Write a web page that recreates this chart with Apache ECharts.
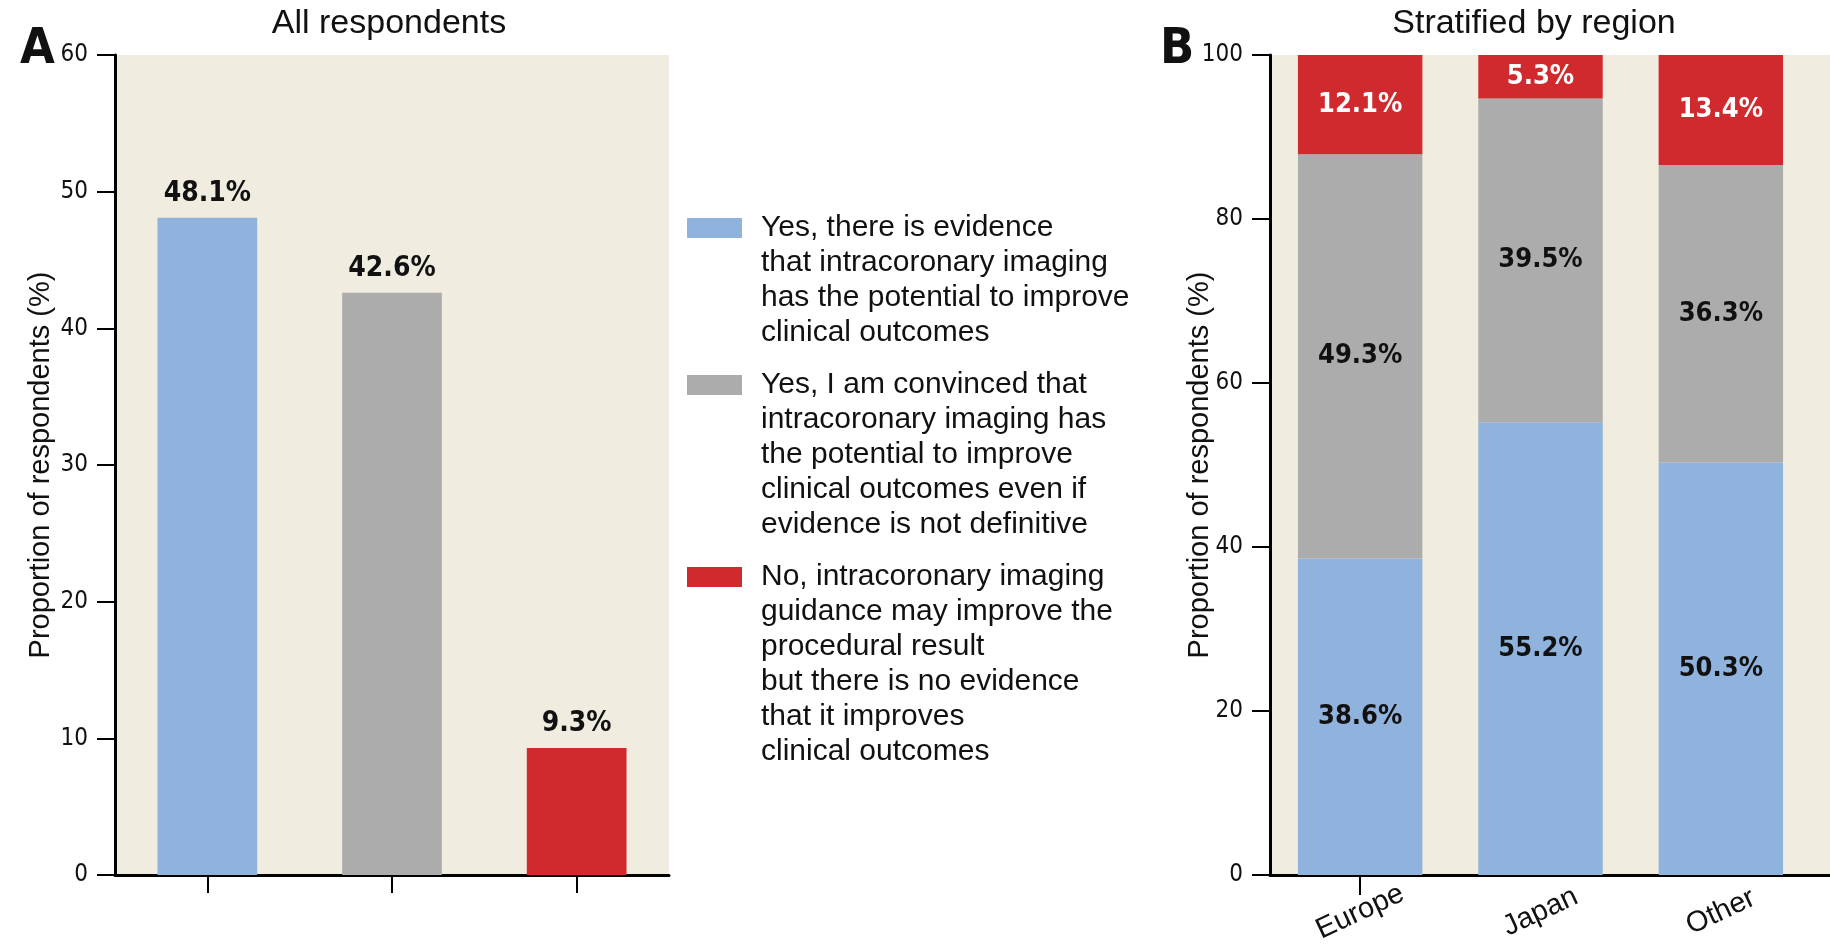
<!DOCTYPE html>
<html>
<head>
<meta charset="utf-8">
<script src="https://cdn.jsdelivr.net/npm/echarts@6/dist/echarts.min.js"></script>
<style>
html,body{margin:0;padding:0;background:#fff;}
#chart{width:1830px;height:951px;}
</style>
</head>
<body>
<div id="chart"></div>
<script>
// ---- data ----
const responseNames = [
  'Yes, there is evidence\nthat intracoronary imaging\nhas the potential to improve\nclinical outcomes',
  'Yes, I am convinced that\nintracoronary imaging has\nthe potential to improve\nclinical outcomes even if\nevidence is not definitive',
  'No, intracoronary imaging\nguidance may improve the\nprocedural result\nbut there is no evidence\nthat it improves\nclinical outcomes'
];
const allRespondents = [48.1, 42.6, 9.3];
const regions = ['Europe', 'Japan', 'Other'];
const regionYesEvidence = [38.6, 55.2, 50.3];
const regionYesConvinced = [49.3, 39.5, 36.3];
const regionNo = [12.1, 5.3, 13.4];
const colors = ['#8fb3dd', '#acacac', '#d12a2e'];
const panelTitles = ['All respondents', 'Stratified by region'];
const yAxisName = 'Proportion of respondents (%)';

// ---- styles ----
const BG = '#f0ede0';
const NARROW = '"Liberation Sans Narrow","DejaVu Sans Condensed",sans-serif';
const SANS = '"Liberation Sans",Arial,sans-serif';
const INK = '#111';

const chart = echarts.init(document.getElementById('chart'));

const yAxisCommon = {
  type: 'value',
  name: yAxisName,
  nameLocation: 'middle',
  nameMoveOverlap: false,
  nameTextStyle: {fontSize: 29, fontFamily: SANS, color: INK},
  axisLine: {show: true, lineStyle: {color: '#000', width: 3}},
  axisTick: {show: true, length: 18, lineStyle: {color: '#000', width: 2}},
  axisLabel: {fontSize: 24, fontFamily: NARROW, color: INK, margin: 27},
  splitLine: {show: false}
};

const seriesB = [regionYesEvidence, regionYesConvinced, regionNo].map((vals, i) => ({
  type: 'bar',
  name: responseNames[i],
  xAxisIndex: 1,
  yAxisIndex: 1,
  stack: 'region',
  barWidth: '69%',
  data: vals,
  itemStyle: {color: colors[i]},
  label: {
    show: true,
    position: 'inside',
    formatter: '{c}%',
    fontSize: 27,
    fontWeight: 'bold',
    fontFamily: NARROW,
    color: i === 2 ? '#fff' : INK
  }
}));

// legend drawn as graphics (icon aligned with first text line)
const legendGraphics = [];
let iconTop = 218;
const LH = 35, GAP = 17;
responseNames.forEach((name, i) => {
  legendGraphics.push({
    type: 'rect',
    shape: {x: 687, y: iconTop, width: 55, height: 20},
    style: {fill: colors[i]}
  });
  legendGraphics.push({
    type: 'text',
    x: 761,
    y: iconTop + 10 - LH / 2,
    style: {
      text: name,
      font: '30px ' + SANS,
      fill: INK,
      lineHeight: LH,
      verticalAlign: 'top',
      align: 'left'
    }
  });
  iconTop += name.split('\n').length * LH + GAP;
});

const option = {
  backgroundColor: '#fff',
  animation: false,
  title: [
    {text: panelTitles[0], left: 384, top: 2, textAlign: 'center',
     textStyle: {fontSize: 34, fontWeight: 'normal', fontFamily: SANS, color: INK}},
    {text: panelTitles[1], left: 1529, top: 2, textAlign: 'center',
     textStyle: {fontSize: 34, fontWeight: 'normal', fontFamily: SANS, color: INK}}
  ],
  grid: [
    {left: 115, top: 55, width: 554, height: 820, show: true, backgroundColor: BG, borderWidth: 0},
    {left: 1270, top: 55, width: 541, height: 820, show: true, backgroundColor: BG, borderWidth: 0}
  ],
  xAxis: [
    {
      gridIndex: 0, type: 'category', data: ['', '', ''],
      axisLine: {lineStyle: {color: '#000', width: 3}},
      axisTick: {show: true, alignWithLabel: true, interval: 0, length: 18, lineStyle: {color: '#000', width: 2}},
      axisLabel: {show: true, interval: 0, color: INK}
    },
    {
      gridIndex: 1, type: 'category', data: regions,
      axisLine: {lineStyle: {color: '#000', width: 3}},
      axisTick: {show: true, alignWithLabel: true, length: 20, interval: (idx) => idx === 0,
                 lineStyle: {color: '#000', width: 2}},
      axisLabel: {rotate: 25, align: 'center', verticalAlign: 'middle', margin: 37,
                  fontSize: 29, fontFamily: SANS, color: INK, interval: 0}
    }
  ],
  yAxis: [
    Object.assign({}, yAxisCommon, {gridIndex: 0, min: 0, max: 60, interval: 10, nameGap: 60}),
    Object.assign({}, yAxisCommon, {gridIndex: 1, min: 0, max: 100, interval: 20, nameGap: 56})
  ],
  series: [
    {
      type: 'bar',
      name: 'All respondents',
      xAxisIndex: 0,
      yAxisIndex: 0,
      barWidth: '54%',
      data: allRespondents.map((v, i) => ({value: v, itemStyle: {color: colors[i]}})),
      label: {
        show: true, position: 'top', distance: 10, formatter: '{c}%',
        fontSize: 28, fontWeight: 'bold', fontFamily: NARROW, color: INK
      }
    }
  ].concat(seriesB),
  graphic: [
    {type: 'rect', z: -1, shape: {x: 1811, y: 55, width: 19, height: 820}, style: {fill: BG}},
    {type: 'line', shape: {x1: 1809, y1: 875.5, x2: 1830, y2: 875.5}, style: {stroke: '#000', lineWidth: 3}},
    {type: 'text', x: 20, y: 50, style: {text: 'A', font: 'bold 50px ' + NARROW, fill: INK, verticalAlign: 'middle'}},
    {type: 'text', x: 1160, y: 50, style: {text: 'B', font: 'bold 50px ' + NARROW, fill: INK, verticalAlign: 'middle'}}
  ].concat(legendGraphics)
};

chart.setOption(option);
</script>
</body>
</html>
